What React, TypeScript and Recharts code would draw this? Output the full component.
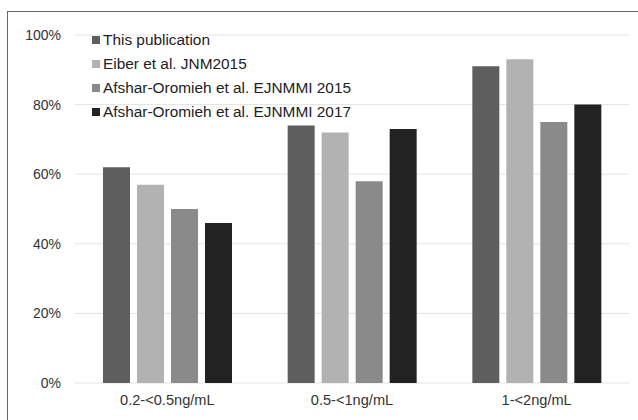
import React from "react";
import { BarChart, Bar, XAxis, YAxis, CartesianGrid } from "recharts";

const categories = ["0.2-<0.5ng/mL", "0.5-<1ng/mL", "1-<2ng/mL"];
const seriesNames = [
  "This publication",
  "Eiber et al. JNM2015",
  "Afshar-Oromieh et al. EJNMMI 2015",
  "Afshar-Oromieh et al. EJNMMI 2017",
];
const thisPublication = [62, 74, 91];
const eiber2015 = [57, 72, 93];
const afshar2015 = [50, 58, 75];
const afshar2017 = [46, 73, 80];
const yTicks = [0, 20, 40, 60, 80, 100];

const colors = ["#5e5e5e", "#b2b2b2", "#8a8a8a", "#222222"];
const keys = ["s0", "s1", "s2", "s3"];

const data = categories.map((name, i) => ({
  name,
  s0: thisPublication[i],
  s1: eiber2015[i],
  s2: afshar2015[i],
  s3: afshar2017[i],
}));

const font = "'Liberation Sans', Arial, sans-serif";

const LegendBox = () => (
  <div
    style={{
      position: "absolute",
      left: 92,
      top: 28,
      fontFamily: font,
      fontSize: 15.4,
      color: "#222",
      pointerEvents: "none",
    }}
  >
    {seriesNames.map((n, i) => (
      <div
        key={n}
        style={{ display: "flex", alignItems: "center", height: 24 }}
      >
        <span
          style={{
            display: "inline-block",
            width: 8,
            height: 8,
            background: colors[i],
            marginRight: 3,
          }}
        />
        {n}
      </div>
    ))}
  </div>
);

export default function App() {
  return (
    <div
      style={{
        position: "absolute",
        left: 0,
        top: 0,
        width: 638,
        height: 420,
        background: "#fff",
        overflow: "hidden",
      }}
    >
      <div
        style={{
          position: "absolute",
          left: 7,
          top: 11,
          width: 640,
          height: 420,
          borderLeft: "1.5px solid #666",
          borderTop: "1.5px solid #666",
        }}
      />
      <BarChart
        width={638}
        height={420}
        data={data}
        margin={{ top: 35, right: 9, left: 0, bottom: 0 }}
        barSize={27}
        barGap={7}
      >
        <CartesianGrid vertical={false} stroke="#e4e4e4" />
        <XAxis
          dataKey="name"
          axisLine={false}
          tickLine={false}
          height={37}
          tickMargin={6}
          tick={{ fill: "#333", fontSize: 14.6, fontFamily: font }}
        />
        <YAxis
          width={75}
          domain={[0, 100]}
          ticks={yTicks}
          axisLine={false}
          tickLine={false}
          tickMargin={8}
          tickFormatter={(v) => `${v}%`}
          tick={{ fill: "#333", fontSize: 14, fontFamily: font }}
        />
        {keys.map((k, i) => (
          <Bar
            key={k}
            dataKey={k}
            name={seriesNames[i]}
            fill={colors[i]}
            isAnimationActive={false}
          />
        ))}
      </BarChart>
      <LegendBox />
    </div>
  );
}
